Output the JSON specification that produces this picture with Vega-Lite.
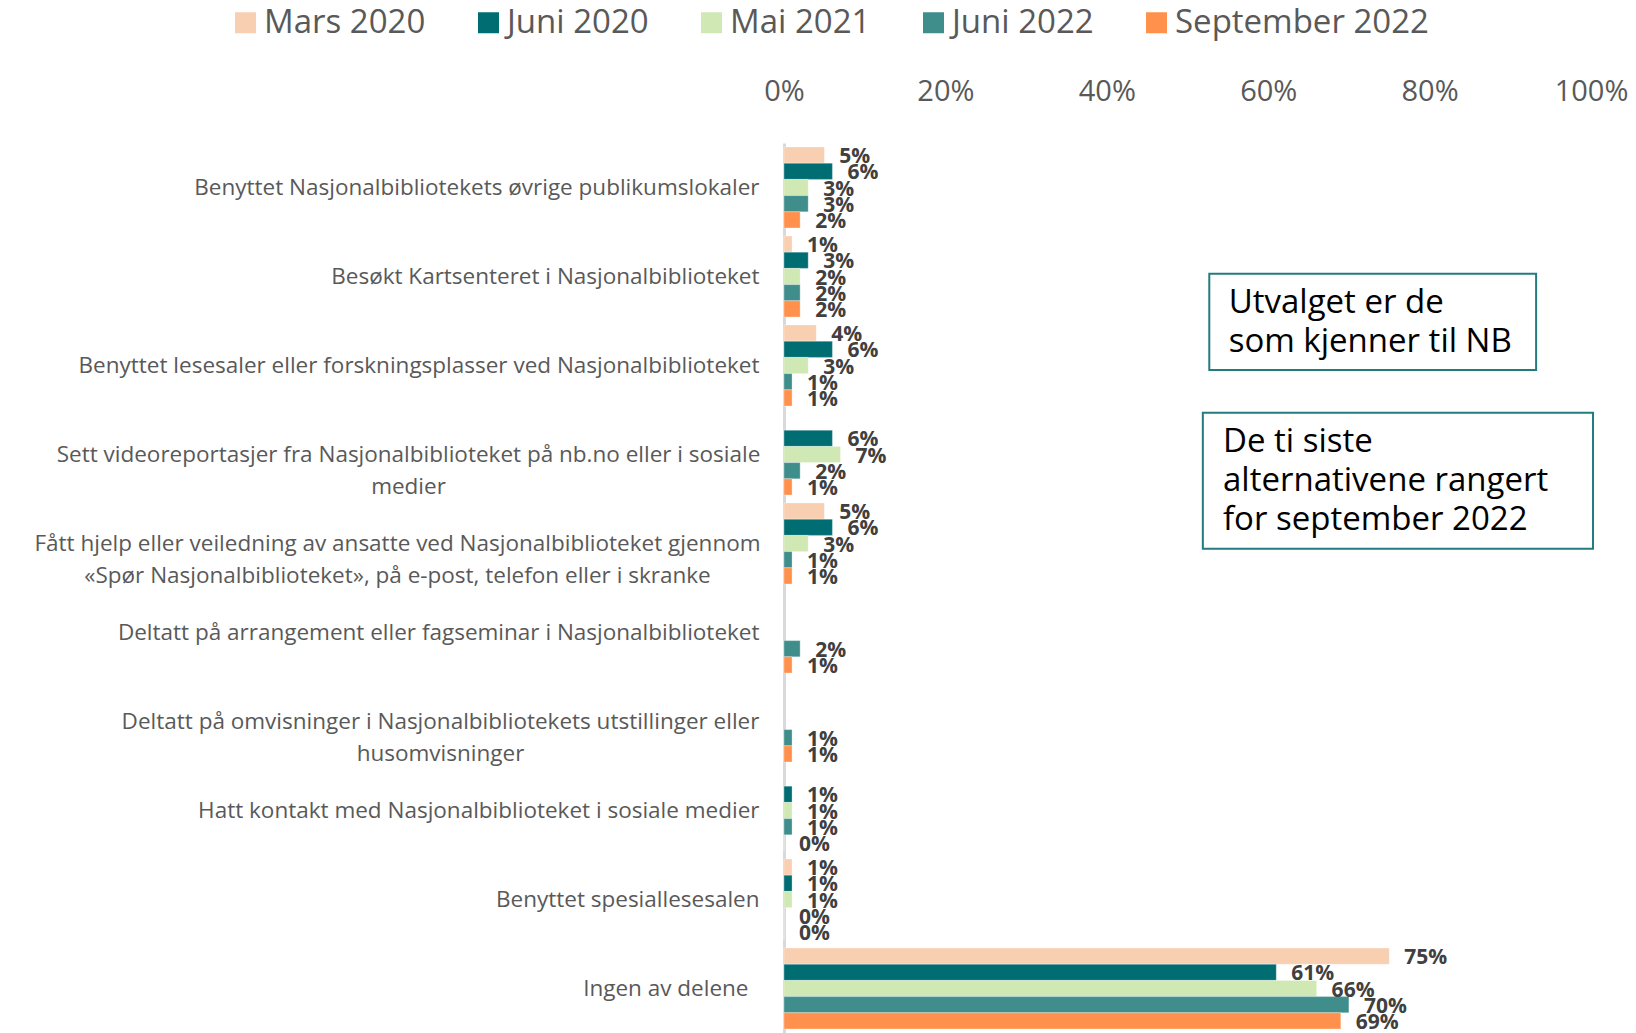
{
  "$schema": "https://vega.github.io/schema/vega-lite/v6.json",
  "width": 807,
  "height": 890,
  "autosize": {"type": "none"},
  "padding": {"left": 784, "top": 143, "right": 45, "bottom": 0},
  "background": "white",
  "config": {"view": {"stroke": null}, "font": "Open Sans"},
  "datasets": {
    "survey": [
      {"item": "Benyttet Nasjonalbibliotekets øvrige publikumslokaler", "period": "Mars 2020", "share": 0.05},
      {"item": "Benyttet Nasjonalbibliotekets øvrige publikumslokaler", "period": "Juni 2020", "share": 0.06},
      {"item": "Benyttet Nasjonalbibliotekets øvrige publikumslokaler", "period": "Mai 2021", "share": 0.03},
      {"item": "Benyttet Nasjonalbibliotekets øvrige publikumslokaler", "period": "Juni 2022", "share": 0.03},
      {"item": "Benyttet Nasjonalbibliotekets øvrige publikumslokaler", "period": "September 2022", "share": 0.02},
      {"item": "Besøkt Kartsenteret i Nasjonalbiblioteket", "period": "Mars 2020", "share": 0.01},
      {"item": "Besøkt Kartsenteret i Nasjonalbiblioteket", "period": "Juni 2020", "share": 0.03},
      {"item": "Besøkt Kartsenteret i Nasjonalbiblioteket", "period": "Mai 2021", "share": 0.02},
      {"item": "Besøkt Kartsenteret i Nasjonalbiblioteket", "period": "Juni 2022", "share": 0.02},
      {"item": "Besøkt Kartsenteret i Nasjonalbiblioteket", "period": "September 2022", "share": 0.02},
      {"item": "Benyttet lesesaler eller forskningsplasser ved Nasjonalbiblioteket", "period": "Mars 2020", "share": 0.04},
      {"item": "Benyttet lesesaler eller forskningsplasser ved Nasjonalbiblioteket", "period": "Juni 2020", "share": 0.06},
      {"item": "Benyttet lesesaler eller forskningsplasser ved Nasjonalbiblioteket", "period": "Mai 2021", "share": 0.03},
      {"item": "Benyttet lesesaler eller forskningsplasser ved Nasjonalbiblioteket", "period": "Juni 2022", "share": 0.01},
      {"item": "Benyttet lesesaler eller forskningsplasser ved Nasjonalbiblioteket", "period": "September 2022", "share": 0.01},
      {"item": "Sett videoreportasjer fra Nasjonalbiblioteket på nb.no eller i sosiale medier", "period": "Juni 2020", "share": 0.06},
      {"item": "Sett videoreportasjer fra Nasjonalbiblioteket på nb.no eller i sosiale medier", "period": "Mai 2021", "share": 0.07},
      {"item": "Sett videoreportasjer fra Nasjonalbiblioteket på nb.no eller i sosiale medier", "period": "Juni 2022", "share": 0.02},
      {"item": "Sett videoreportasjer fra Nasjonalbiblioteket på nb.no eller i sosiale medier", "period": "September 2022", "share": 0.01},
      {"item": "Fått hjelp eller veiledning av ansatte ved Nasjonalbiblioteket gjennom «Spør Nasjonalbiblioteket», på e-post, telefon eller i skranke", "period": "Mars 2020", "share": 0.05},
      {"item": "Fått hjelp eller veiledning av ansatte ved Nasjonalbiblioteket gjennom «Spør Nasjonalbiblioteket», på e-post, telefon eller i skranke", "period": "Juni 2020", "share": 0.06},
      {"item": "Fått hjelp eller veiledning av ansatte ved Nasjonalbiblioteket gjennom «Spør Nasjonalbiblioteket», på e-post, telefon eller i skranke", "period": "Mai 2021", "share": 0.03},
      {"item": "Fått hjelp eller veiledning av ansatte ved Nasjonalbiblioteket gjennom «Spør Nasjonalbiblioteket», på e-post, telefon eller i skranke", "period": "Juni 2022", "share": 0.01},
      {"item": "Fått hjelp eller veiledning av ansatte ved Nasjonalbiblioteket gjennom «Spør Nasjonalbiblioteket», på e-post, telefon eller i skranke", "period": "September 2022", "share": 0.01},
      {"item": "Deltatt på arrangement eller fagseminar i Nasjonalbiblioteket", "period": "Juni 2022", "share": 0.02},
      {"item": "Deltatt på arrangement eller fagseminar i Nasjonalbiblioteket", "period": "September 2022", "share": 0.01},
      {"item": "Deltatt på omvisninger i Nasjonalbibliotekets utstillinger eller husomvisninger", "period": "Juni 2022", "share": 0.01},
      {"item": "Deltatt på omvisninger i Nasjonalbibliotekets utstillinger eller husomvisninger", "period": "September 2022", "share": 0.01},
      {"item": "Hatt kontakt med Nasjonalbiblioteket i sosiale medier", "period": "Juni 2020", "share": 0.01},
      {"item": "Hatt kontakt med Nasjonalbiblioteket i sosiale medier", "period": "Mai 2021", "share": 0.01},
      {"item": "Hatt kontakt med Nasjonalbiblioteket i sosiale medier", "period": "Juni 2022", "share": 0.01},
      {"item": "Hatt kontakt med Nasjonalbiblioteket i sosiale medier", "period": "September 2022", "share": 0},
      {"item": "Benyttet spesiallesesalen", "period": "Mars 2020", "share": 0.01},
      {"item": "Benyttet spesiallesesalen", "period": "Juni 2020", "share": 0.01},
      {"item": "Benyttet spesiallesesalen", "period": "Mai 2021", "share": 0.01},
      {"item": "Benyttet spesiallesesalen", "period": "Juni 2022", "share": 0},
      {"item": "Benyttet spesiallesesalen", "period": "September 2022", "share": 0},
      {"item": "Ingen av delene", "period": "Mars 2020", "share": 0.75},
      {"item": "Ingen av delene", "period": "Juni 2020", "share": 0.61},
      {"item": "Ingen av delene", "period": "Mai 2021", "share": 0.66},
      {"item": "Ingen av delene", "period": "Juni 2022", "share": 0.70},
      {"item": "Ingen av delene", "period": "September 2022", "share": 0.69}
    ]
  },
  "layer": [
    {
      "data": {"name": "survey"},
      "encoding": {
        "y": {
          "field": "item", "type": "nominal", "sort": null,
          "scale": {"paddingInner": 0.09, "paddingOuter": 0.045},
          "axis": {
            "title": null, "orient": "left", "ticks": false, "tickSize": 0,
            "domain": true, "domainColor": "#D9D9D9", "domainWidth": 3,
            "labelFont": "Open Sans", "labelFontSize": 22.5, "labelColor": "#595959",
            "labelLimit": 1000, "labelLineHeight": 32, "labelBaseline": "middle",
            "labelExpr": "datum.value == 'Sett videoreportasjer fra Nasjonalbiblioteket på nb.no eller i sosiale medier' ? ['Sett videoreportasjer fra Nasjonalbiblioteket på nb.no eller i sosiale', 'medier'] : datum.value == 'Fått hjelp eller veiledning av ansatte ved Nasjonalbiblioteket gjennom «Spør Nasjonalbiblioteket», på e-post, telefon eller i skranke' ? ['Fått hjelp eller veiledning av ansatte ved Nasjonalbiblioteket gjennom', '«Spør Nasjonalbiblioteket», på e-post, telefon eller i skranke'] : datum.value == 'Deltatt på omvisninger i Nasjonalbibliotekets utstillinger eller husomvisninger' ? ['Deltatt på omvisninger i Nasjonalbibliotekets utstillinger eller', 'husomvisninger'] : datum.label",
            "labelAlign": {
              "condition": {"test": "datum.value == 'Sett videoreportasjer fra Nasjonalbiblioteket på nb.no eller i sosiale medier' || datum.value == 'Fått hjelp eller veiledning av ansatte ved Nasjonalbiblioteket gjennom «Spør Nasjonalbiblioteket», på e-post, telefon eller i skranke' || datum.value == 'Deltatt på omvisninger i Nasjonalbibliotekets utstillinger eller husomvisninger'", "value": "center"},
              "value": "right"
            },
            "labelPadding": {"expr": "datum.value == 'Sett videoreportasjer fra Nasjonalbiblioteket på nb.no eller i sosiale medier' ? 376 : datum.value == 'Fått hjelp eller veiledning av ansatte ved Nasjonalbiblioteket gjennom «Spør Nasjonalbiblioteket», på e-post, telefon eller i skranke' ? 387 : datum.value == 'Deltatt på omvisninger i Nasjonalbibliotekets utstillinger eller husomvisninger' ? 344 : datum.value == 'Ingen av delene' ? 36 : 25"}
          }
        },
        "yOffset": {
          "field": "period", "type": "nominal",
          "sort": ["Mars 2020", "Juni 2020", "Mai 2021", "Juni 2022", "September 2022"],
          "scale": {"domain": ["Mars 2020", "Juni 2020", "Mai 2021", "Juni 2022", "September 2022"], "paddingInner": 0, "paddingOuter": 0}
        },
        "x": {
          "field": "share", "type": "quantitative",
          "scale": {"domain": [0, 1]},
          "axis": {
            "orient": "top", "title": null, "format": ".0%",
            "values": [0, 0.2, 0.4, 0.6, 0.8, 1],
            "domain": false, "ticks": false, "tickSize": 0, "grid": false,
            "labelFont": "Open Sans", "labelFontSize": 29, "labelColor": "#595959",
            "labelPadding": 37, "labelFlush": false
          }
        }
      },
      "layer": [
        {
          "mark": {"type": "bar", "stroke": "white", "strokeWidth": 0.5, "strokeOpacity": 0.6},
          "encoding": {
            "color": {
              "field": "period", "type": "nominal",
              "scale": {
                "domain": ["Mars 2020", "Juni 2020", "Mai 2021", "Juni 2022", "September 2022"],
                "range": ["#F8CFB0", "#006D73", "#D0E8B3", "#3F8E8C", "#FF914D"]
              },
              "legend": {
                "orient": "none", "legendX": -555, "legendY": -137,
                "direction": "horizontal", "title": null,
                "symbolType": "square", "symbolSize": 441, "symbolStrokeWidth": 0, "symbolOpacity": 1,
                "labelFont": "Open Sans", "labelFontSize": 33, "labelColor": "#595959",
                "labelOffset": 2, "columnPadding": 46, "padding": 0, "labelLimit": 400
              }
            }
          }
        },
        {
          "mark": {"type": "text", "align": "left", "baseline": "middle", "dx": 15, "dy": 2, "fontWeight": "bold", "fontSize": 21, "fill": "#404040", "font": "Open Sans"},
          "encoding": {
            "text": {"field": "share", "type": "quantitative", "format": ".0%"}
          }
        }
      ]
    },
    {
      "data": {"values": [{"note": "Utvalget er de\nsom kjenner til NB"}]},
      "layer": [
        {
          "mark": {"type": "rect", "fill": "white", "stroke": "#237B80", "strokeWidth": 2},
          "encoding": {
            "x": {"datum": 0.527, "type": "quantitative", "scale": {"domain": [0, 1]}},
            "x2": {"datum": 0.932},
            "y": {"datum": 1.47, "type": "quantitative", "scale": {"domain": [0, 10], "reverse": true}, "axis": null},
            "y2": {"datum": 2.55}
          }
        },
        {
          "mark": {"type": "text", "align": "left", "baseline": "middle", "fontSize": 33, "lineBreak": "\n", "lineHeight": 39, "fill": "black", "font": "Open Sans"},
          "encoding": {
            "x": {"datum": 0.551, "type": "quantitative", "scale": {"domain": [0, 1]}},
            "y": {"datum": 1.8, "type": "quantitative", "scale": {"domain": [0, 10], "reverse": true}, "axis": null},
            "text": {"field": "note"}
          }
        }
      ]
    },
    {
      "data": {"values": [{"note": "De ti siste\nalternativene rangert\nfor september 2022"}]},
      "layer": [
        {
          "mark": {"type": "rect", "fill": "white", "stroke": "#237B80", "strokeWidth": 2},
          "encoding": {
            "x": {"datum": 0.519, "type": "quantitative", "scale": {"domain": [0, 1]}},
            "x2": {"datum": 1.0025},
            "y": {"datum": 3.03, "type": "quantitative", "scale": {"domain": [0, 10], "reverse": true}, "axis": null},
            "y2": {"datum": 4.56}
          }
        },
        {
          "mark": {"type": "text", "align": "left", "baseline": "middle", "fontSize": 33, "lineBreak": "\n", "lineHeight": 39, "fill": "black", "font": "Open Sans"},
          "encoding": {
            "x": {"datum": 0.544, "type": "quantitative", "scale": {"domain": [0, 1]}},
            "y": {"datum": 3.36, "type": "quantitative", "scale": {"domain": [0, 10], "reverse": true}, "axis": null},
            "text": {"field": "note"}
          }
        }
      ]
    }
  ],
  "resolve": {"scale": {"y": "independent"}}
}
